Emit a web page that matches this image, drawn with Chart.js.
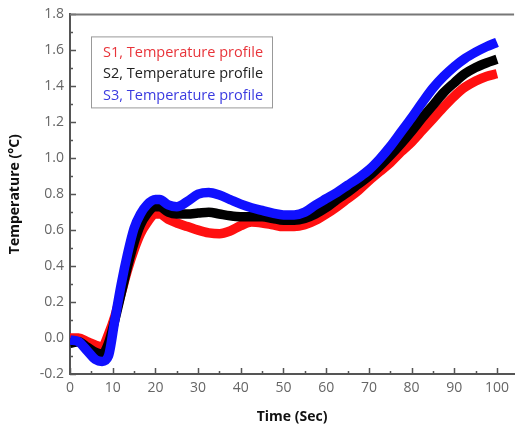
<!DOCTYPE html>
<html lang="en">
<head>
<meta charset="UTF-8">
<title>Temperature profile</title>
<script src="https://cdn.jsdelivr.net/npm/chart.js"></script>
<style>
  html, body { margin: 0; padding: 0; background: #fff; }
  #wrap { width: 515px; height: 425px; }
</style>
</head>
<body>
<div id="wrap"><canvas id="myChart"></canvas></div>
<script>
// time in seconds
const tiempo = [0, 2, 4, 6, 7.5, 9, 10.5, 12, 13.5, 15, 16.5, 18, 20, 21, 23, 25, 27.5, 30, 32.5, 35, 37.5, 40,
  42.5, 45, 47.5, 50, 52.5, 55, 57.5, 60, 62.5, 65, 67.5, 70, 72.5, 75, 77.5, 80, 82.5, 85, 87.5, 90, 92.5, 95, 97.5, 100];

const s1 = [0.0, 0.0, -0.02, -0.04, -0.05, 0.02, 0.12, 0.25, 0.38, 0.49, 0.58, 0.64, 0.69, 0.69, 0.66, 0.64, 0.62, 0.60,
  0.585, 0.58, 0.595, 0.625, 0.645, 0.64, 0.63, 0.62, 0.62, 0.63, 0.655, 0.69, 0.73, 0.775, 0.82, 0.875, 0.925, 0.975,
  1.035, 1.09, 1.155, 1.22, 1.285, 1.345, 1.395, 1.43, 1.455, 1.47];

const s2 = [-0.03, -0.02, -0.05, -0.08, -0.09, -0.03, 0.10, 0.25, 0.40, 0.53, 0.63, 0.69, 0.73, 0.73, 0.70, 0.69, 0.69, 0.695,
  0.70, 0.69, 0.68, 0.675, 0.675, 0.675, 0.665, 0.655, 0.655, 0.665, 0.69, 0.725, 0.77, 0.81, 0.855, 0.90, 0.955, 1.015,
  1.08, 1.15, 1.225, 1.295, 1.365, 1.42, 1.47, 1.505, 1.53, 1.55];

const s3 = [-0.01, -0.02, -0.07, -0.12, -0.13, -0.10, 0.10, 0.30, 0.47, 0.61, 0.69, 0.74, 0.77, 0.77, 0.74, 0.73, 0.76, 0.80,
  0.81, 0.795, 0.77, 0.745, 0.725, 0.71, 0.695, 0.685, 0.685, 0.70, 0.74, 0.775, 0.81, 0.85, 0.89, 0.935, 0.995, 1.065,
  1.145, 1.225, 1.31, 1.39, 1.455, 1.51, 1.555, 1.59, 1.62, 1.645];

const nombres = ["S1, Temperature profile", "S2, Temperature profile", "S3, Temperature profile"];
const coloresLinea = ["#ff1010", "#000000", "#1010ff"];
const coloresTexto = ["#e8343a", "#222222", "#3a3ae0"];
const ticksX = [0, 10, 20, 30, 40, 50, 60, 70, 80, 90, 100];

function puntos(valores) {
  return tiempo.map((t, i) => ({ x: t, y: valores[i] }));
}

const fuente = "'Open Sans', sans-serif";

// inward major/minor ticks and top frame line
const marcas = {
  id: "marcas",
  beforeDatasetsDraw(chart) {
    const ctx = chart.ctx;
    const a = chart.chartArea;
    const sx = chart.scales.x, sy = chart.scales.y;
    ctx.save();
    ctx.strokeStyle = "#555";
    ctx.lineWidth = 1.5;
    ctx.beginPath();
    for (let v = 0; v <= 100; v += 5) {
      const px = Math.round(sx.getPixelForValue(v)) + 0.5;
      const len = v % 10 === 0 ? 6 : 3;
      ctx.moveTo(px, a.bottom);
      ctx.lineTo(px, a.bottom - len);
    }
    for (let k = -2; k <= 18; k++) {
      const py = Math.round(sy.getPixelForValue(k / 10)) + 0.5;
      const len = k % 2 === 0 ? 6 : 3;
      ctx.moveTo(a.left, py);
      ctx.lineTo(a.left + len, py);
    }
    ctx.stroke();
    ctx.strokeStyle = "#777";
    ctx.lineWidth = 2;
    ctx.beginPath();
    ctx.moveTo(a.left, a.top);
    ctx.lineTo(a.right, a.top);
    ctx.stroke();
    ctx.restore();
  }
};

// legend box drawn inside the plot area
const leyenda = {
  id: "leyenda",
  afterDraw(chart) {
    const ctx = chart.ctx;
    const a = chart.chartArea;
    const x0 = a.left + 21, y0 = a.top + 22;
    ctx.save();
    ctx.strokeStyle = "#999";
    ctx.lineWidth = 1;
    ctx.strokeRect(x0 + 0.5, y0 + 0.5, 181, 71);
    ctx.font = "14.5px " + fuente;
    ctx.textBaseline = "middle";
    chart.data.datasets.forEach((ds, i) => {
      ctx.fillStyle = coloresTexto[i];
      ctx.fillText(ds.label, x0 + 12, y0 + 16 + i * 21.5);
    });
    ctx.restore();
  }
};

const config = {
  type: "line",
  data: {
    datasets: [
      { label: nombres[0], data: puntos(s1), borderColor: coloresLinea[0], order: 3 },
      { label: nombres[1], data: puntos(s2), borderColor: coloresLinea[1], order: 2 },
      { label: nombres[2], data: puntos(s3), borderColor: coloresLinea[2], order: 1 }
    ]
  },
  options: {
    responsive: true,
    maintainAspectRatio: false,
    animation: false,
    layout: { padding: { top: 14, right: 0, left: 0, bottom: 0 } },
    elements: {
      line: { borderWidth: 9.5, cubicInterpolationMode: "monotone", borderJoinStyle: "round", fill: false },
      point: { radius: 0 }
    },
    plugins: {
      legend: { display: false },
      tooltip: { enabled: false }
    },
    scales: {
      x: {
        type: "linear",
        min: 0,
        max: 104,
        afterFit(scale) { scale.height = 51; },
        afterBuildTicks(scale) { scale.ticks = ticksX.map((v) => ({ value: v })); },
        grid: { display: false, drawTicks: false },
        border: { display: true, color: "#555", width: 2 },
        ticks: {
          padding: 6,
          color: "#666",
          font: { family: fuente, size: 14 }
        },
        title: {
          display: true,
          text: "Time (Sec)",
          color: "#111",
          font: { family: fuente, size: 14, weight: "bold" },
          padding: { top: 0, bottom: 0 }
        }
      },
      y: {
        min: -0.2,
        max: 1.8,
        afterFit(scale) { scale.width = 70; },
        grid: { display: false, drawTicks: false },
        border: { display: true, color: "#555", width: 2 },
        ticks: {
          stepSize: 0.2,
          padding: 6,
          color: "#666",
          font: { family: fuente, size: 14 },
          callback: (v) => v.toFixed(1)
        },
        title: {
          display: true,
          text: "Temperature (°C)",
          color: "#111",
          font: { family: fuente, size: 14, weight: "bold" },
          padding: { top: 7, bottom: 0 }
        }
      }
    }
  },
  plugins: [marcas, leyenda]
};

new Chart(document.getElementById("myChart"), config);
</script>
</body>
</html>
